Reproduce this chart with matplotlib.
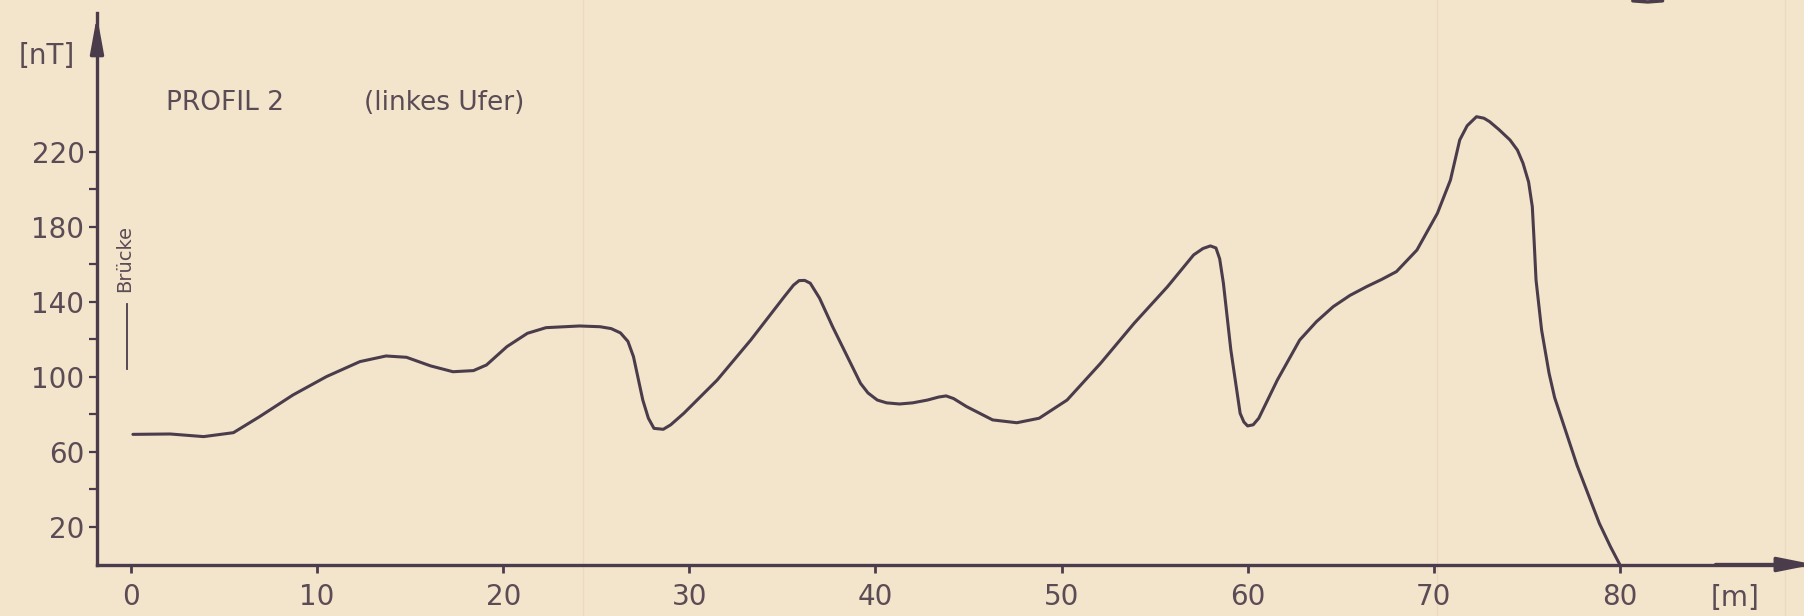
import matplotlib.pyplot as plt

# values
dist_m = [0.1, 2.1, 3.9, 5.5, 6.9, 8.7, 10.5, 12.3, 13.7, 14.8, 16.1, 17.3, 18.4,
          19.1, 20.2, 21.3, 22.3, 24.1, 25.2, 25.8, 26.3, 26.7, 27.0, 27.5, 27.8,
          28.1, 28.6, 29.0, 29.7, 31.5, 33.3, 35.1, 35.6, 35.9, 36.2, 36.5, 37.0,
          37.7, 39.2, 39.6, 40.1, 40.6, 41.3, 42.0, 42.8, 43.4, 43.8, 44.2, 44.9,
          46.3, 47.6, 48.8, 50.3, 52.1, 53.9, 55.7, 57.1, 57.6, 58.0, 58.3, 58.5,
          58.7, 59.1, 59.6, 59.8, 60.0, 60.3, 60.6, 61.6, 62.8, 63.7, 64.6, 65.5,
          66.4, 67.2, 68.0, 69.1, 70.2, 70.9, 71.4, 71.8, 72.3, 72.7, 73.0, 73.5,
          74.1, 74.5, 74.8, 75.1, 75.3, 75.4, 75.5, 75.8, 76.2, 76.5, 76.9, 77.3,
          77.7, 78.3, 78.9, 79.5, 80.0]
field_nT = [69.4, 69.6, 68.2, 70.3, 78.8, 90.4, 100.2, 108.2, 111.2, 110.5, 105.9,
            102.8, 103.4, 106.4, 116.2, 123.3, 126.3, 127.2, 126.8, 125.8, 123.5,
            119, 110.8, 87.7, 78, 72.6, 72.1, 74.5, 80.6, 98.4, 119.7, 142.8, 149,
            151.4, 151.5, 150, 142, 126.8, 96.6, 91.5, 87.7, 86.2, 85.6, 86.2, 87.7,
            89.3, 89.9, 88.5, 84.2, 77.1, 75.6, 78, 87.7, 107.3, 128.6, 148.2, 165.1,
            168.5, 169.9, 168.8, 163, 150, 114.4, 80.6, 76, 73.9, 74.5, 78, 98.4,
            119.7, 129.5, 137.5, 143.5, 148.2, 152, 156.2, 167.7, 187.3, 205, 226.4,
            234, 238.8, 238, 236.2, 232, 226.4, 221, 214, 204, 190.8, 172, 151.7,
            125, 102, 89, 77, 65, 53, 37.5, 22, 9.5, 0]

x_ticks = [0, 10, 20, 30, 40, 50, 60, 70, 80]
y_ticks = [20, 60, 100, 140, 180, 220]
y_minor = [40, 80, 120, 160, 200]
bridge_span = [104.4, 138.8]
fold_lines = [24.3, 70.2, 88.9]

BG = '#F3E4CC'
INK = '#4B3C4B'
TXT = '#5B4B55'
plt.rcParams['font.family'] = ['DejaVu Sans']

fig = plt.figure(figsize=(18.04, 6.16), dpi=100)
fig.patch.set_facecolor(BG)
ax = fig.add_axes([97 / 1804, 51.5 / 616, 1707 / 1804, 551.5 / 616])
ax.set_facecolor(BG)
ax.set_xlim(-1.83, 89.9)
ax.set_ylim(0, 294.1)

for s in ['top', 'right']:
    ax.spines[s].set_visible(False)
for s in ['left', 'bottom']:
    ax.spines[s].set_color(INK)
    ax.spines[s].set_linewidth(2.4)

# paper folds
for fx in fold_lines:
    ax.axvline(fx, ymin=-0.2, ymax=1.2, color='#EBDAC0', lw=1, clip_on=False, zorder=0)

ax.set_xticks(x_ticks)
ax.set_yticks(y_ticks)
ax.set_yticks(y_minor, minor=True)
ax.tick_params(axis='x', direction='out', length=6, width=2, color=INK,
               labelsize=20, labelcolor=TXT, pad=7)
ax.tick_params(axis='y', which='both', direction='out', length=6, width=1.6, color=INK,
               labelsize=20, labelcolor=TXT, pad=3)

# axis arrows
ax.annotate('', xy=(-1.83, 294.1), xytext=(-1.83, 270), annotation_clip=False,
            arrowprops=dict(arrowstyle='-|>,head_length=1.1,head_width=0.2',
                            mutation_scale=20, color=INK, lw=2.4))
ax.annotate('', xy=(90.6, 0), xytext=(85, 0), annotation_clip=False,
            arrowprops=dict(arrowstyle='-|>,head_length=1.1,head_width=0.22',
                            mutation_scale=20, color=INK, lw=2.4))

ax.plot(dist_m, field_nT, color=INK, lw=2.2, solid_joinstyle='round',
        solid_capstyle='round', zorder=3)

# Bruecke marker
ax.plot([-0.2, -0.2], bridge_span, color=INK, lw=1.3)
ax.text(-0.35, 163, 'Brücke', rotation=90, fontsize=14, color=TXT,
        ha='center', va='center')

ax.text(-4.55, 271, '[nT]', fontsize=20, color=TXT, ha='center', va='center',
        clip_on=False)
ax.text(86.2, -17.9, '[m]', fontsize=20, color=TXT, ha='center', va='center',
        clip_on=False)
ax.text(1.9, 246, 'PROFIL 2', fontsize=19, color=TXT, ha='left', va='center')
ax.text(12.5, 246, '(linkes Ufer)', fontsize=19, color=TXT, ha='left', va='center')

# edge of a circled mark cut off at the top
ax.plot([80.7, 81.5, 82.3], [300.6, 300.0, 300.6], color=INK, lw=2.5,
        solid_capstyle='round', clip_on=False)

fig.savefig('out.png', dpi=100, facecolor=BG)
